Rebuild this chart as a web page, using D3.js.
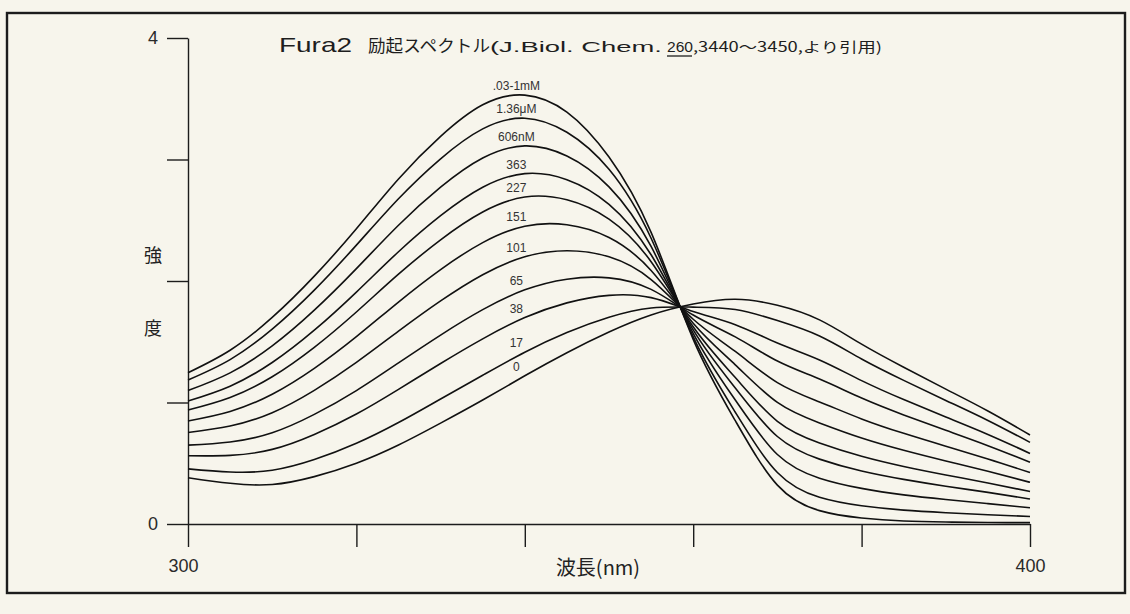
<!DOCTYPE html>
<html>
<head>
<meta charset="utf-8">
<script src="https://cdn.jsdelivr.net/npm/d3@7"></script>
<style>
  html, body { margin: 0; padding: 0; background: #f7f5ec; }
  svg { display: block; }
</style>
</head>
<body>
<svg id="chart" width="1130" height="614"></svg>
<script>
// Excitation wavelengths (nm)
const wavelengths = [300, 305, 310, 315, 320, 325, 330, 335, 340, 345, 350,
                     355, 360, 365, 370, 375, 380, 385, 390, 395, 400];

// Free Ca2+ concentration of each spectrum, top curve first
const concLabels = [".03-1mM", "1.36\u03bcM", "606nM", "363", "227", "151",
                    "101", "65", "38", "17", "0"];

// Fluorescence intensity of each spectrum
const s_03_1mM = [1.245, 1.43, 1.70, 2.04, 2.43, 2.84, 3.19, 3.45, 3.53, 3.39, 3.02,
                  2.40, 1.52, 0.85, 0.32, 0.11, 0.05, 0.025, 0.016, 0.012, 0.011];
const s_1_36uM = [1.185, 1.353, 1.604, 1.925, 2.295, 2.677, 3.006, 3.252, 3.340, 3.224, 2.919,
                  2.352, 1.540, 0.920, 0.424, 0.220, 0.150, 0.114, 0.093, 0.076, 0.062];
const s_606nM = [1.098, 1.244, 1.466, 1.760, 2.102, 2.459, 2.772, 3.012, 3.112, 3.029, 2.775,
                 2.284, 1.569, 1.020, 0.572, 0.377, 0.293, 0.240, 0.202, 0.168, 0.134];
const s_363 = [1.012, 1.134, 1.329, 1.595, 1.909, 2.241, 2.538, 2.772, 2.884, 2.834, 2.631,
               2.216, 1.598, 1.120, 0.720, 0.534, 0.436, 0.367, 0.311, 0.260, 0.206];
const s_227 = [0.938, 1.041, 1.212, 1.454, 1.745, 2.056, 2.339, 2.568, 2.691, 2.668, 2.509,
               2.159, 1.623, 1.205, 0.845, 0.667, 0.558, 0.474, 0.404, 0.338, 0.267];
const s_151 = [0.848, 0.926, 1.068, 1.281, 1.542, 1.827, 2.094, 2.316, 2.451, 2.463, 2.358,
               2.087, 1.653, 1.310, 1.001, 0.832, 0.708, 0.607, 0.519, 0.434, 0.343];
const s_101 = [0.753, 0.806, 0.916, 1.100, 1.330, 1.587, 1.836, 2.052, 2.200, 2.249, 2.199,
               2.012, 1.685, 1.420, 1.164, 1.005, 0.865, 0.746, 0.640, 0.535, 0.423];
const s_65 = [0.649, 0.675, 0.751, 0.902, 1.098, 1.326, 1.555, 1.764, 1.927, 2.015, 2.026,
              1.931, 1.720, 1.540, 1.341, 1.193, 1.037, 0.898, 0.771, 0.645, 0.509];
const s_38 = [0.562, 0.565, 0.614, 0.737, 0.905, 1.108, 1.321, 1.524, 1.699, 1.820, 1.882,
              1.863, 1.749, 1.640, 1.489, 1.350, 1.180, 1.024, 0.880, 0.737, 0.581];
const s_17 = [0.454, 0.428, 0.442, 0.530, 0.664, 0.835, 1.029, 1.224, 1.414, 1.576, 1.702,
              1.778, 1.785, 1.765, 1.674, 1.547, 1.358, 1.182, 1.017, 0.852, 0.672];
const s_0 = [0.381, 0.335, 0.325, 0.390, 0.500, 0.650, 0.830, 1.020, 1.220, 1.410, 1.580,
             1.720, 1.810, 1.850, 1.800, 1.680, 1.480, 1.290, 1.110, 0.930, 0.733];

const seriesValues = [s_03_1mM, s_1_36uM, s_606nM, s_363, s_227, s_151,
                      s_101, s_65, s_38, s_17, s_0];

// Axis ticks
const xTicks = [300, 320, 340, 360, 380, 400];
const xTickLabels = ["300", "", "", "", "", "400"];
const yTicks = [0, 1, 2, 3, 4];
const yTickLabels = ["0", "", "", "", "4"];

const titleParts = ["Fura2", "励起スペクトル", "(J.Biol. Chem.", "260", ",3440〜3450,より引用)"];
const xTitle = "波長(nm)";
const yTitleChars = ["強", "度"];

const series = concLabels.map((label, i) => ({
  label,
  points: wavelengths.map((w, j) => ({ w, v: seriesValues[i][j] }))
}));

const svg = d3.select("#chart");
const ink = "#1c1c1c";
const latin = "'Liberation Sans', Arial, sans-serif";
const cjk = "'Noto Sans CJK JP', 'Noto Sans', sans-serif";

// Page frame
svg.append("rect")
  .attr("x", 7).attr("y", 13).attr("width", 1118).attr("height", 580)
  .attr("fill", "none").attr("stroke", ink).attr("stroke-width", 2.4);

const x = d3.scaleLinear().domain([300, 400]).range([188, 1030]);
const y = d3.scaleLinear().domain([0, 4]).range([524, 38]);

// Y axis
const yAxis = svg.append("g")
  .attr("transform", `translate(${x(300)},0)`)
  .call(d3.axisLeft(y).tickValues(yTicks).tickSize(21).tickSizeOuter(0).tickPadding(9)
        .tickFormat((d, i) => yTickLabels[i]));

// X axis
const xAxis = svg.append("g")
  .attr("transform", `translate(0,${y(0)})`)
  .call(d3.axisBottom(x).tickValues(xTicks).tickSize(23).tickSizeOuter(0).tickPadding(12)
        .tickFormat((d, i) => xTickLabels[i]));

[yAxis, xAxis].forEach(g => {
  g.select(".domain").attr("stroke", ink).attr("stroke-width", 1.4);
  g.selectAll(".tick line").attr("stroke", ink).attr("stroke-width", 1.4);
  g.selectAll(".tick text").attr("fill", "#2a2a2a").attr("font-size", 18)
    .attr("font-family", latin).attr("font-weight", 300);
});
xAxis.selectAll(".tick text").attr("dx", d => d === 300 ? -5 : 0);

// Spectra
const line = d3.line()
  .x(d => x(d.w))
  .y(d => y(d.v))
  .curve(d3.curveNatural);

svg.append("g").selectAll("path")
  .data(series)
  .join("path")
  .attr("d", d => line(d.points))
  .attr("fill", "none")
  .attr("stroke", "#111")
  .attr("stroke-width", 1.6);

// Concentration labels, set just above each curve near its peak
svg.append("g").selectAll("text")
  .data(series)
  .join("text")
  .attr("x", x(339))
  .attr("y", d => y(d.points[8].v) - 9)
  .attr("dy", "0.35em")
  .attr("text-anchor", "middle")
  .attr("font-family", "'Liberation Sans Narrow', 'Arial Narrow', 'Liberation Sans', sans-serif")
  .attr("font-size", 12)
  .attr("fill", "#333")
  .text(d => d.label);

// Title
const title = svg.append("g").attr("fill", "#1e1e1e");
const titleSpec = [
  { x: 279, w: 73, size: 21, font: latin },
  { x: 368, w: 122, size: 17, font: cjk },
  { x: 490, w: 172, size: 15, font: latin },
  { x: 667, w: 26, size: 14, font: latin },
  { x: 693, w: 189, size: 14, font: cjk }
];
titleParts.forEach((t, i) => {
  const s = titleSpec[i];
  title.append("text")
    .attr("x", s.x).attr("y", 52)
    .attr("font-family", s.font).attr("font-size", s.size)
    .attr("textLength", s.w).attr("lengthAdjust", "spacingAndGlyphs")
    .text(t);
});
title.append("line")
  .attr("x1", 667).attr("x2", 692).attr("y1", 56).attr("y2", 56)
  .attr("stroke", "#1e1e1e").attr("stroke-width", 1.3);

// Axis titles
svg.append("text")
  .attr("x", 598).attr("y", 575)
  .attr("text-anchor", "middle")
  .attr("font-family", cjk).attr("font-size", 20).attr("fill", "#222")
  .text(xTitle);

svg.append("g").selectAll("text")
  .data(yTitleChars)
  .join("text")
  .attr("x", 153)
  .attr("y", (d, i) => 262 + i * 73)
  .attr("text-anchor", "middle")
  .attr("font-family", cjk).attr("font-size", 18).attr("fill", "#222")
  .text(d => d);
</script>
</body>
</html>
